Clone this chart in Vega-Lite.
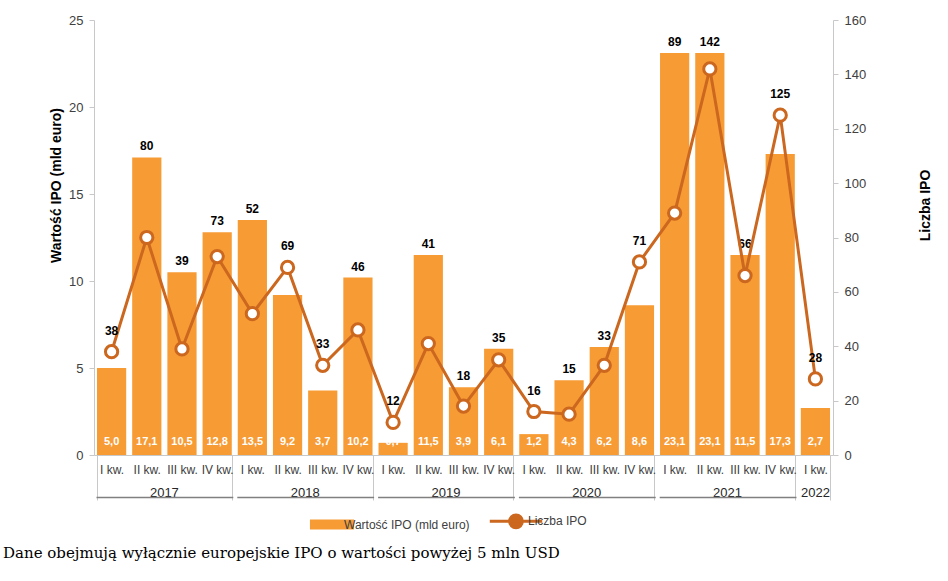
{
  "$schema": "https://vega.github.io/schema/vega-lite/v6.json",
  "width": 739,
  "height": 435,
  "autosize": "none",
  "padding": {"left": 94, "top": 20, "right": 115, "bottom": 126},
  "title": {
    "text": "Dane obejmują wyłącznie europejskie IPO o wartości powyżej 5 mln USD",
    "orient": "bottom", "anchor": "start", "frame": "group",
    "font": "DejaVu Serif", "fontSize": 15, "fontWeight": "normal", "color": "#000000",
    "offset": 12, "dx": -91
  },
  "data": {
    "values": [
      {"id": "2017 I kw.", "value": 5.0, "count": 38},
      {"id": "2017 II kw.", "value": 17.1, "count": 80},
      {"id": "2017 III kw.", "value": 10.5, "count": 39},
      {"id": "2017 IV kw.", "value": 12.8, "count": 73},
      {"id": "2018 I kw.", "value": 13.5, "count": 52},
      {"id": "2018 II kw.", "value": 9.2, "count": 69},
      {"id": "2018 III kw.", "value": 3.7, "count": 33},
      {"id": "2018 IV kw.", "value": 10.2, "count": 46},
      {"id": "2019 I kw.", "value": 0.7, "count": 12},
      {"id": "2019 II kw.", "value": 11.5, "count": 41},
      {"id": "2019 III kw.", "value": 3.9, "count": 18},
      {"id": "2019 IV kw.", "value": 6.1, "count": 35},
      {"id": "2020 I kw.", "value": 1.2, "count": 16},
      {"id": "2020 II kw.", "value": 4.3, "count": 15},
      {"id": "2020 III kw.", "value": 6.2, "count": 33},
      {"id": "2020 IV kw.", "value": 8.6, "count": 71},
      {"id": "2021 I kw.", "value": 23.1, "count": 89},
      {"id": "2021 II kw.", "value": 23.1, "count": 142},
      {"id": "2021 III kw.", "value": 11.5, "count": 66},
      {"id": "2021 IV kw.", "value": 17.3, "count": 125},
      {"id": "2022 I kw.", "value": 2.7, "count": 28}
    ]
  },
  "layer": [
    {
      "encoding": {
        "x": {
          "field": "id", "type": "ordinal", "sort": null,
          "scale": {"paddingInner": 0.17, "paddingOuter": 0.085},
          "axis": {
            "title": null, "orient": "bottom", "labelAngle": 0, "labelOverlap": false,
            "labelExpr": "datum.value ? slice(datum.value, 5) : ''",
            "tickBand": "extent", "tickSize": 45,
            "tickColor": {"condition": {"test": "!datum.value || indexof(datum.value, 'IV') > 0 || datum.value == '2022 I kw.'", "value": "#c8c8c8"}, "value": "transparent"},
            "labelPadding": -31, "labelBaseline": "middle",
            "domainColor": "#c8c8c8", "labelFontSize": 12, "labelColor": "#404040"
          }
        },
        "y": {
          "field": "value", "type": "quantitative",
          "scale": {"domain": [0, 25], "nice": false},
          "axis": {
            "title": "Wartość IPO (mld euro)", "values": [0, 5, 10, 15, 20, 25],
            "grid": false, "domainColor": "#c8c8c8", "tickColor": "#c8c8c8", "tickSize": 5,
            "labelFontSize": 13, "labelColor": "#404040", "labelPadding": 6,
            "titleFontSize": 14, "titleFontWeight": "bold", "titleColor": "#000000",
            "titleY": 165, "titleX": -31
          }
        }
      },
      "layer": [
        {
          "mark": {"type": "bar"},
          "encoding": {
            "color": {
              "datum": "Wartość IPO (mld euro)",
              "scale": {"domain": ["Wartość IPO (mld euro)", "Liczba IPO"], "range": ["#F79B35", "#CB671E"]},
              "legend": {
                "title": null, "orient": "none", "legendX": 232, "legendY": 495,
                "direction": "horizontal", "symbolSize": 2400, "labelFontSize": 12,
                "labelColor": "#404040", "columnPadding": 13, "labelOffset": 6,
                "encode": {
                  "symbols": {
                    "update": {
                      "shape": {"signal": "datum.label == 'Liczba IPO' ? 'M-1.07,0H1.07M0.26,0A0.26,0.26,0,1,1,-0.26,0A0.26,0.26,0,1,1,0.26,0Z' : 'M-0.9,-0.2H0.9V0.2H-0.9Z'"},
                      "fill": {"signal": "datum.label == 'Liczba IPO' ? '#CB671E' : '#F79B35'"},
                      "stroke": {"signal": "datum.label == 'Liczba IPO' ? '#CB671E' : '#F79B35'"},
                      "strokeWidth": {"signal": "datum.label == 'Liczba IPO' ? 3 : 0"},
                      "opacity": {"value": 1},
                      "fillOpacity": {"value": 1}
                    }
                  },
                  "labels": {
                    "update": {
                      "fontSize": {"value": 12}
                    }
                  }
                }
              }
            }
          }
        },
        {
          "mark": {"type": "text", "color": "#ffffff", "fontWeight": "bold", "fontSize": 11, "baseline": "middle", "dy": -13},
          "encoding": {
            "y": {"datum": 0},
            "text": {"field": "value", "type": "quantitative", "format": ".1f"}
          }
        },
        {
          "transform": [{"filter": "datum.value * 6.4 >= datum.count"}],
          "mark": {"type": "text", "color": "#000000", "fontWeight": "bold", "fontSize": 12, "baseline": "bottom", "dy": -4},
          "encoding": {
            "text": {"field": "count", "type": "quantitative"}
          }
        }
      ]
    },
    {
      "encoding": {
        "x": {
          "field": "id", "type": "ordinal", "sort": null,
          "axis": {
            "title": null, "orient": "bottom", "offset": 42, "ticks": false,
            "labelAngle": 0, "labelOverlap": false,
            "labelExpr": "datum.value && (slice(datum.value, 5) == 'II kw.' || datum.value == '2022 I kw.') ? slice(datum.value, 0, 4) : ''",
            "labelOffset": {"condition": {"test": "datum.value == '2022 I kw.'", "value": 0}, "value": 17.6},
            "labelBaseline": "alphabetic", "labelPadding": -1,
            "labelFontSize": 13, "labelColor": "#262626",
            "domainColor": "#808080", "domainWidth": 1.5,
            "domainDash": [136.8, 4, 136.8, 4, 136.8, 4, 136.8, 4, 136.8, 40],
            "domainDashOffset": -2
          }
        },
        "y": {
          "field": "count", "type": "quantitative",
          "scale": {"domain": [0, 160], "nice": false},
          "axis": {
            "orient": "right", "title": "Liczba IPO", "values": [0, 20, 40, 60, 80, 100, 120, 140, 160],
            "grid": false, "domainColor": "#c8c8c8", "tickColor": "#c8c8c8", "tickSize": 5,
            "labelFontSize": 13, "labelColor": "#404040", "labelPadding": 6,
            "titleFontSize": 14, "titleFontWeight": "bold", "titleColor": "#000000",
            "titleAngle": -90, "titleY": 185, "titleX": 99
          }
        }
      },
      "layer": [
        {
          "mark": {"type": "line", "strokeWidth": 3},
          "encoding": {"color": {"datum": "Liczba IPO"}}
        },
        {
          "mark": {"type": "point", "filled": true, "fill": "#ffffff", "stroke": "#CB671E", "strokeWidth": 3, "size": 150, "opacity": 1}
        },
        {
          "transform": [{"filter": "datum.value * 6.4 < datum.count"}],
          "mark": {"type": "text", "color": "#000000", "fontWeight": "bold", "fontSize": 12, "baseline": "bottom", "dy": -14},
          "encoding": {
            "text": {"field": "count", "type": "quantitative"}
          }
        }
      ]
    }
  ],
  "resolve": {"scale": {"y": "independent"}, "axis": {"x": "independent"}},
  "config": {
    "font": "Liberation Sans",
    "view": {"stroke": null},
    "locale": {"number": {"decimal": ",", "thousands": " ", "grouping": [3], "currency": ["", " zł"]}}
  }
}
